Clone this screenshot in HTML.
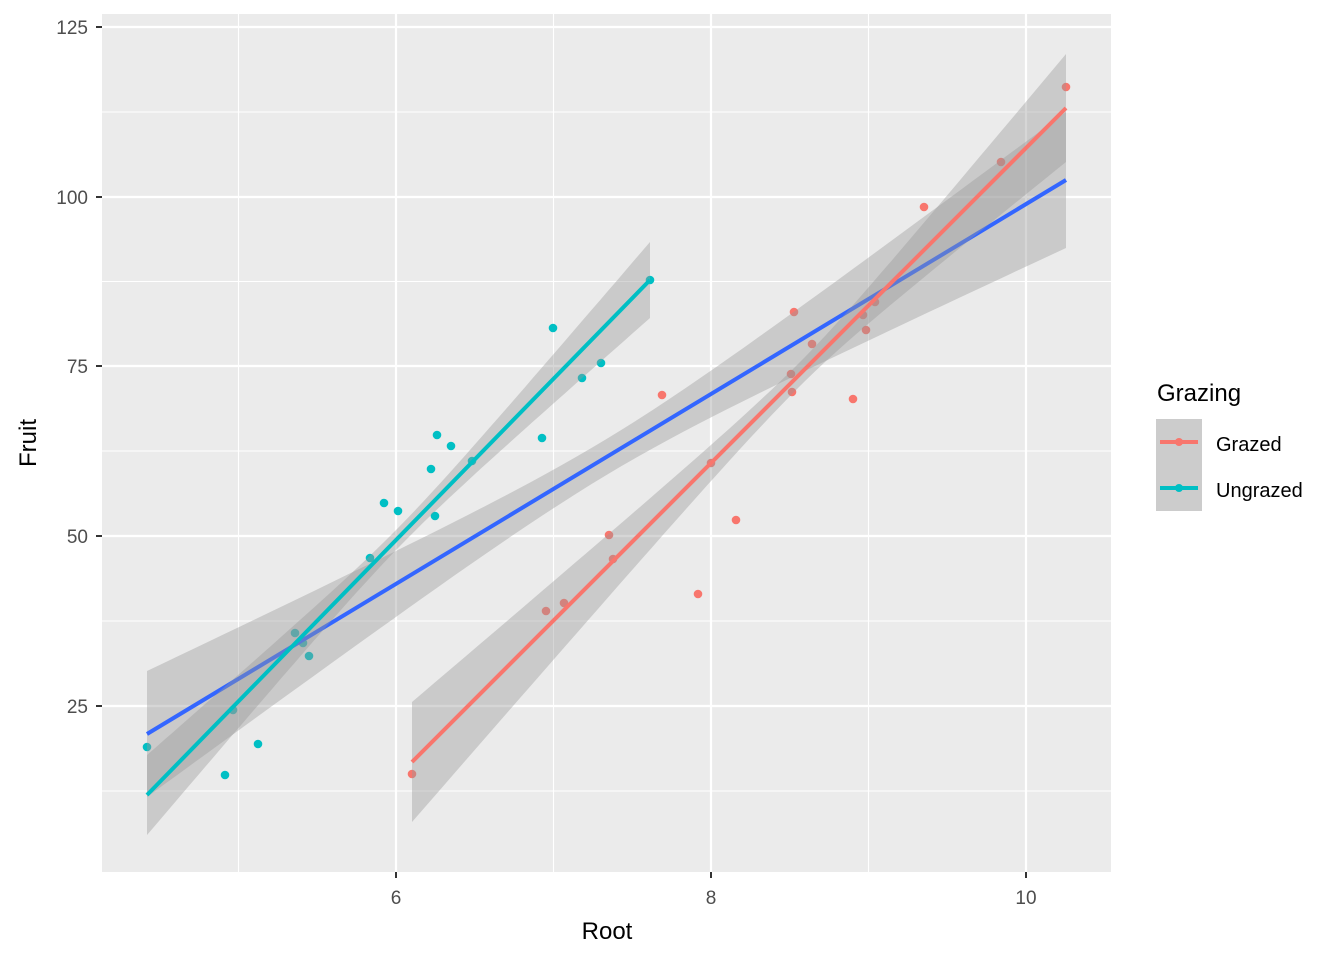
<!DOCTYPE html>
<html><head><meta charset="utf-8"><style>
body{margin:0;background:#fff;}
svg{display:block;font-family:"Liberation Sans",Arial,sans-serif;}
</style></head><body>
<svg id="s" width="1344" height="960" viewBox="0 0 1344 960" xmlns="http://www.w3.org/2000/svg">
<rect x="0" y="0" width="1344" height="960" fill="#fff"/>
<rect x="102" y="14" width="1009" height="858" fill="#EBEBEB"/>
<g stroke="#fff" stroke-width="1.1">
<line x1="238.5" y1="14" x2="238.5" y2="872"/><line x1="553.5" y1="14" x2="553.5" y2="872"/><line x1="868.5" y1="14" x2="868.5" y2="872"/>
<line x1="102" y1="112" x2="1111" y2="112"/><line x1="102" y1="281.5" x2="1111" y2="281.5"/><line x1="102" y1="451" x2="1111" y2="451"/><line x1="102" y1="621" x2="1111" y2="621"/><line x1="102" y1="791" x2="1111" y2="791"/>
</g>
<g stroke="#fff" stroke-width="2.2">
<line x1="396" y1="14" x2="396" y2="872"/><line x1="711" y1="14" x2="711" y2="872"/><line x1="1026" y1="14" x2="1026" y2="872"/>
<line x1="102" y1="27" x2="1111" y2="27"/><line x1="102" y1="197" x2="1111" y2="197"/><line x1="102" y1="366" x2="1111" y2="366"/><line x1="102" y1="536" x2="1111" y2="536"/><line x1="102" y1="706" x2="1111" y2="706"/>
</g>
<g id="pts"></g>
<g id="layers"></g>
<g font-size="19" fill="#4D4D4D" text-anchor="end">
<text x="88" y="34">125</text><text x="88" y="204">100</text><text x="88" y="373">75</text><text x="88" y="543">50</text><text x="88" y="713">25</text>
</g>
<g font-size="19" fill="#4D4D4D" text-anchor="middle">
<text x="396" y="904">6</text><text x="711" y="904">8</text><text x="1026" y="904">10</text>
</g>
<g stroke="#333" stroke-width="2">
<line x1="96" y1="27" x2="102" y2="27"/><line x1="96" y1="197" x2="102" y2="197"/><line x1="96" y1="366" x2="102" y2="366"/><line x1="96" y1="536" x2="102" y2="536"/><line x1="96" y1="706" x2="102" y2="706"/>
<line x1="396" y1="872" x2="396" y2="878"/><line x1="711" y1="872" x2="711" y2="878"/><line x1="1026" y1="872" x2="1026" y2="878"/>
</g>
<text x="607" y="939" font-size="24" text-anchor="middle" fill="#000">Root</text>
<text transform="translate(36,443) rotate(-90)" font-size="24" text-anchor="middle" fill="#000">Fruit</text>
<text x="1157" y="401" font-size="24" fill="#000">Grazing</text>
<rect x="1156" y="419" width="46" height="92" fill="#CCCCCC"/>
<line x1="1160" y1="442" x2="1198" y2="442" stroke="#F8766D" stroke-width="4"/>
<circle cx="1179" cy="442" r="4" fill="#F8766D"/>
<line x1="1160" y1="488" x2="1198" y2="488" stroke="#00BFC4" stroke-width="4"/>
<circle cx="1179" cy="488" r="4" fill="#00BFC4"/>
<text x="1216" y="451" font-size="20" fill="#000">Grazed</text>
<text x="1216" y="497" font-size="20" fill="#000">Ungrazed</text>
</svg>
<script>
var NS="http://www.w3.org/2000/svg";
var L=document.getElementById("layers");
function ribbon(x1,y1,x2,y2,xc,hmin,hl,hr){
  var bl=(hl*hl-hmin*hmin)/Math.pow(xc-x1,2), br=(hr*hr-hmin*hmin)/Math.pow(x2-xc,2);
  var up=[],dn=[];
  for(var i=0;i<=60;i++){
    var x=x1+(x2-x1)*i/60, y=y1+(y2-y1)*(x-x1)/(x2-x1);
    var dx=x-xc, b=dx<0?bl:br, h=Math.sqrt(hmin*hmin+b*dx*dx);
    up.push(x.toFixed(1)+","+(y-h).toFixed(1)); dn.unshift(x.toFixed(1)+","+(y+h).toFixed(1));
  }
  var p=document.createElementNS(NS,"polygon");
  p.setAttribute("points",up.concat(dn).join(" "));
  p.setAttribute("fill","#999999");p.setAttribute("fill-opacity","0.4");
  L.appendChild(p);
}
function line(x1,y1,x2,y2,c){
  var l=document.createElementNS(NS,"line");
  l.setAttribute("x1",x1);l.setAttribute("y1",y1);l.setAttribute("x2",x2);l.setAttribute("y2",y2);
  l.setAttribute("stroke",c);l.setAttribute("stroke-width","4");
  L.appendChild(l);
}
var U=[[147,747],[225,775],[233,710],[258,744],[295,633],[303,643],[309,656],[370,558],[384,503],[398,511],[431,469],[437,435],[435,516],[451,446],[472,461],[542,438],[553,328],[582,378],[601,363],[650,280]];
var G=[[412,774],[546,611],[564,603],[609,535],[613,559],[662,395],[698,594],[711,463],[736,520],[791,374],[792,392],[794,312],[812,344],[853,399],[863,315],[866,330],[875,302],[924,207],[1001,162],[1066,87]];
function pts(a,c){a.forEach(function(q){var e=document.createElementNS(NS,"circle");e.setAttribute("cx",q[0]);e.setAttribute("cy",q[1]);e.setAttribute("r","4.3");e.setAttribute("fill",c);document.getElementById("pts").appendChild(e);});}
pts(G,"#F8766D");pts(U,"#00BFC4");
ribbon(147,734,1066,180,606,18,63,68); line(147,734,1066,180,"#3366FF");
ribbon(412,762,1066,108,800,12,60,54); line(412,762,1066,108,"#F8766D");
ribbon(147,795,650,280,400,10,40,38); line(147,795,650,280,"#00BFC4");
</script>
</body></html>
